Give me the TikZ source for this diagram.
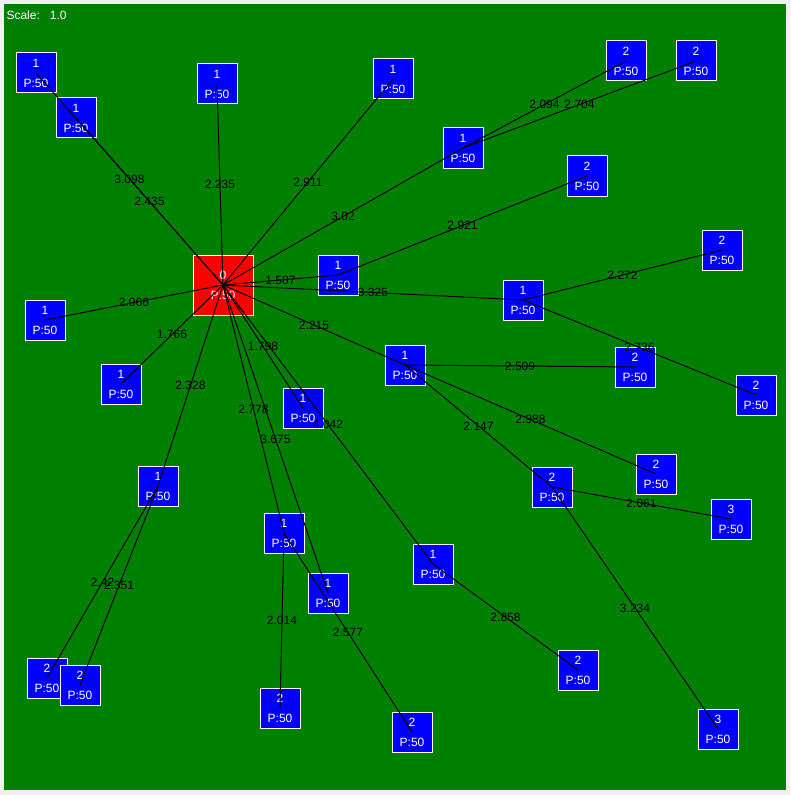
\documentclass[tikz,border=0pt]{standalone}
\usepackage{fontspec}
\setmainfont{Liberation Sans}
\definecolor{field}{HTML}{008000}
\definecolor{frame}{HTML}{F0F0F0}
\tikzset{
  leaf/.style={draw=white,fill=blue,text=white,minimum size=30pt,inner sep=0pt,
    align=center,font=\fontsize{9}{15}\selectfont},
  rootbox/.style={leaf,fill=red,minimum size=45pt},
  dist/.style={midway,inner sep=0pt,font=\fontsize{9}{10}\selectfont}
}

\begin{document}
\begin{tikzpicture}[x=0.75pt,y=-0.75pt,line width=0.75pt]
    \useasboundingbox (0,0) rectangle (790,795);
    \fill [frame] (0,0) rectangle (790,795);
    \fill [field] (4,4) rectangle (786,790);
    \path (6,15) node [anchor=west,inner sep=0pt,text=white,font=\fontsize{9}{10}\selectfont] (scale) {Scale:\ \ \ 1.0};
    % boxes
    \path (223,285) node [rootbox] (root) {0\\P:50};
    \path ( 36, 73) node [leaf] (one1) {1\\P:50};
    \path ( 76,118) node [leaf] (one2) {1\\P:50};
    \path (217, 84) node [leaf] (one3) {1\\P:50};
    \path (393, 79) node [leaf] (one4) {1\\P:50};
    \path (463,148) node [leaf] (one5) {1\\P:50};
    \path (338,275) node [leaf] (one6) {1\\P:50};
    \path (523,300) node [leaf] (one7) {1\\P:50};
    \path ( 45,320) node [leaf] (one8) {1\\P:50};
    \path (121,384) node [leaf] (one9) {1\\P:50};
    \path (405,365) node [leaf] (one10) {1\\P:50};
    \path (303,408) node [leaf] (one11) {1\\P:50};
    \path (158,486) node [leaf] (one12) {1\\P:50};
    \path (284,533) node [leaf] (one13) {1\\P:50};
    \path (328,593) node [leaf] (one14) {1\\P:50};
    \path (433,564) node [leaf] (one15) {1\\P:50};
    \path (626, 61) node [leaf] (two1) {2\\P:50};
    \path (696, 61) node [leaf] (two2) {2\\P:50};
    \path (587,176) node [leaf] (two3) {2\\P:50};
    \path (722,250) node [leaf] (two4) {2\\P:50};
    \path (635,367) node [leaf] (two5) {2\\P:50};
    \path (756,395) node [leaf] (two6) {2\\P:50};
    \path (656,474) node [leaf] (two7) {2\\P:50};
    \path (552,487) node [leaf] (two8) {2\\P:50};
    \path (578,670) node [leaf] (two9) {2\\P:50};
    \path ( 47,678) node [leaf] (two10) {2\\P:50};
    \path ( 80,685) node [leaf] (two11) {2\\P:50};
    \path (280,708) node [leaf] (two12) {2\\P:50};
    \path (412,732) node [leaf] (two13) {2\\P:50};
    \path (731,519) node [leaf] (three1) {3\\P:50};
    \path (718,729) node [leaf] (three2) {3\\P:50};
    % links
    \draw (root.center) -- (one1.center) node [dist] {3.098};
    \draw (root.center) -- (one2.center) node [dist] {2.435};
    \draw (root.center) -- (one3.center) node [dist] {2.235};
    \draw (root.center) -- (one4.center) node [dist] {2.911};
    \draw (root.center) -- (one5.center) node [dist] {3.02};
    \draw (root.center) -- (one6.center) node [dist] {1.587};
    \draw (root.center) -- (one7.center) node [dist] {3.325};
    \draw (root.center) -- (one8.center) node [dist] {2.066};
    \draw (root.center) -- (one9.center) node [dist] {1.766};
    \draw (root.center) -- (one10.center) node [dist] {2.215};
    \draw (root.center) -- (one11.center) node [dist] {1.798};
    \draw (root.center) -- (one12.center) node [dist] {2.328};
    \draw (root.center) -- (one13.center) node [dist] {2.778};
    \draw (root.center) -- (one14.center) node [dist] {3.675};
    \draw (root.center) -- (one15.center) node [dist] {4.042};
    \draw (one5.center) -- (two1.center) node [dist] {2.094};
    \draw (one5.center) -- (two2.center) node [dist] {2.704};
    \draw (one6.center) -- (two3.center) node [dist] {2.921};
    \draw (one7.center) -- (two4.center) node [dist] {2.272};
    \draw (one10.center) -- (two5.center) node [dist] {2.509};
    \draw (one7.center) -- (two6.center) node [dist] {2.736};
    \draw (one10.center) -- (two7.center) node [dist] {2.988};
    \draw (one10.center) -- (two8.center) node [dist] {2.147};
    \draw (one15.center) -- (two9.center) node [dist] {2.858};
    \draw (one12.center) -- (two10.center) node [dist] {2.42};
    \draw (one12.center) -- (two11.center) node [dist] {2.351};
    \draw (one13.center) -- (two12.center) node [dist] {2.014};
    \draw (one13.center) -- (two13.center) node [dist] {2.577};
    \draw (two8.center) -- (three1.center) node [dist] {2.061};
    \draw (two8.center) -- (three2.center) node [dist] {3.234};
\end{tikzpicture}
\end{document}
